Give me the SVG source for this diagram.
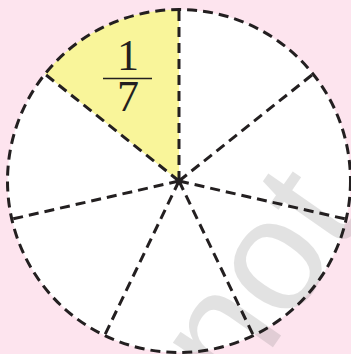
<svg xmlns="http://www.w3.org/2000/svg" width="351" height="354" viewBox="0 0 351 354">
  <style>
    .dash { fill: none; stroke: #231f20; stroke-width: 3; stroke-dasharray: 10 6; }
    .frac { font-family: "Liberation Serif", "DejaVu Serif", serif; font-size: 44px; fill: #231f20; text-anchor: middle; }
    .wm { font-family: "Liberation Sans", Arial, sans-serif; font-size: 160px; fill: #808080; opacity: 0.22; }
  </style>
  <rect width="351" height="354" fill="#fde4ee"/>
  <g id="circle">
    <circle cx="179" cy="181" r="171.5" fill="#ffffff"/>
    <path d="M179,181 L179,9.5 A171.5,171.5 0 0 0 44.92,74.07 Z" fill="#f9f59a"/>
  </g>
  <g id="watermark">
    <text class="wm" transform="translate(236,400) rotate(-55)">not</text>
  </g>
  <g id="connectors">
    <circle class="dash" cx="179" cy="181" r="171.5"/>
    <line class="dash" x1="179" y1="181" x2="179" y2="9.5"/>
    <line class="dash" x1="179" y1="181" x2="313.08" y2="74.07"/>
    <line class="dash" x1="179" y1="181" x2="346.2" y2="219.16"/>
    <line class="dash" x1="179" y1="181" x2="253.41" y2="335.52"/>
    <line class="dash" x1="179" y1="181" x2="104.59" y2="335.52"/>
    <line class="dash" x1="179" y1="181" x2="11.8" y2="219.16"/>
    <line class="dash" x1="179" y1="181" x2="44.92" y2="74.07"/>
    <circle cx="179" cy="181" r="3.5" fill="#231f20"/>
  </g>
  <g id="label">
    <text class="frac" x="128" y="70">1</text>
    <line x1="103" y1="78.5" x2="152" y2="78.5" stroke="#231f20" stroke-width="1.6"/>
    <text class="frac" x="128" y="111">7</text>
  </g>
</svg>
